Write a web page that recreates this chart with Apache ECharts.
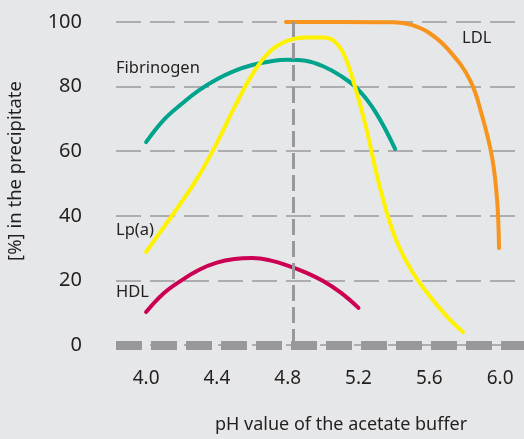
<!DOCTYPE html>
<html>
<head>
<meta charset="utf-8">
<script src="https://cdn.jsdelivr.net/npm/echarts@6/dist/echarts.min.js"></script>
<style>
  html, body { margin: 0; padding: 0; background: #e6e7e8; }
  #chart { width: 524px; height: 439px; }
</style>
</head>
<body>
<div id="chart"></div>
<script>
// pH tick labels on the x axis
const phTicks = [4.0, 4.4, 4.8, 5.2, 5.6, 6.0]
// position of the dashed vertical marker (pH)
const markerPH = 4.83

// curves: [pH, % in precipitate]
const ldl = [[4.79, 100], [5.1, 100], [5.4, 99.9], [5.5, 99.1], [5.6, 96.6], [5.71, 91.3],
  [5.83, 82], [5.9, 70.6], [5.955, 58], [5.983, 45], [5.994, 30]]
const fibrinogen = [[4.0, 62.8], [4.1, 69.7], [4.2, 74.6], [4.3, 78.9], [4.4, 82.3],
  [4.5, 84.9], [4.6, 86.7], [4.7, 87.8], [4.8, 88.3], [4.9, 88.0], [5.0, 86.3],
  [5.1, 83.3], [5.2, 79.0], [5.3, 71.8], [5.407, 60.7]]
const lpa = [[4.0, 28.8], [4.1, 36.5], [4.2, 44.2], [4.3, 52.6], [4.4, 62.6], [4.5, 73.7],
  [4.6, 83.8], [4.7, 90.9], [4.8, 94.2], [4.9, 95.2], [5.0, 95.2], [5.06, 94.2],
  [5.12, 89.7], [5.18, 80], [5.24, 68], [5.3, 53.5], [5.36, 41], [5.42, 31.5],
  [5.5, 23], [5.6, 15.3], [5.7, 8.8], [5.79, 4]]
const hdl = [[4.0, 10.2], [4.1, 16], [4.2, 20], [4.3, 23.3], [4.4, 25.5], [4.5, 26.6],
  [4.6, 26.9], [4.7, 26.2], [4.8, 24.6], [4.9, 22.5], [5.0, 19.8], [5.1, 16.2], [5.2, 11.5]]

const font = '"Noto Sans", sans-serif'
const textColor = '#231f20'
const gray = '#98989a'

function curve(name, data, color) {
  return {
    name, type: 'line', data, z: 3,
    smooth: 0.4, symbol: 'none', clip: false,
    lineStyle: { color, width: 4, cap: 'round' }
  }
}

function label(text, left, y) {
  return {
    type: 'text', left, top: y - 11,
    style: { text, font: '16.5px ' + font, fill: textColor }
  }
}

const chart = echarts.init(document.getElementById('chart'))

chart.setOption({
  backgroundColor: '#e6e7e8',
  animation: false,
  grid: { left: 116, right: 0, top: 22, bottom: 94 },
  xAxis: {
    type: 'value', min: 3.83, max: 6.135,
    axisLine: { show: true, lineStyle: { color: gray, width: 9, type: [26, 9], cap: 'butt' } },
    axisTick: { show: false },
    splitLine: { show: false },
    axisLabel: {
      customValues: phTicks, margin: 24,
      formatter: v => v.toFixed(1),
      fontFamily: font, fontSize: 19, color: textColor
    }
  },
  yAxis: {
    type: 'value', min: 0, max: 100, interval: 20,
    axisLine: { show: false },
    axisTick: { show: false },
    splitLine: { lineStyle: { color: '#9b9b9d', width: 1.5, type: [25, 9], cap: 'butt' } },
    axisLabel: { margin: 34, fontFamily: font, fontSize: 20, color: textColor }
  },
  graphic: [
    label('Fibrinogen', 116, 71),
    label('LDL', 462, 41),
    label('Lp(a)', 116, 233),
    label('HDL', 116, 295),
    {
      type: 'text', left: 215, top: 416,
      style: { text: 'pH value of the acetate buffer', font: '18px ' + font, fill: textColor }
    },
    {
      type: 'text', x: 6, y: 171, rotation: Math.PI / 2,
      style: {
        text: '[%] in the precipitate', font: '18.5px ' + font, fill: textColor,
        align: 'center', verticalAlign: 'top'
      }
    }
  ],
  series: [
    {
      type: 'line', data: [], z: 1,
      markLine: {
        silent: true, symbol: 'none', label: { show: false },
        lineStyle: { color: gray, width: 3, type: [16, 6], cap: 'butt' },
        data: [{ xAxis: markerPH }]
      }
    },
    curve('LDL', ldl, '#f7941d'),
    curve('Fibrinogen', fibrinogen, '#00a38b'),
    curve('Lp(a)', lpa, '#fff200'),
    curve('HDL', hdl, '#cc0052')
  ]
})
</script>
</body>
</html>
